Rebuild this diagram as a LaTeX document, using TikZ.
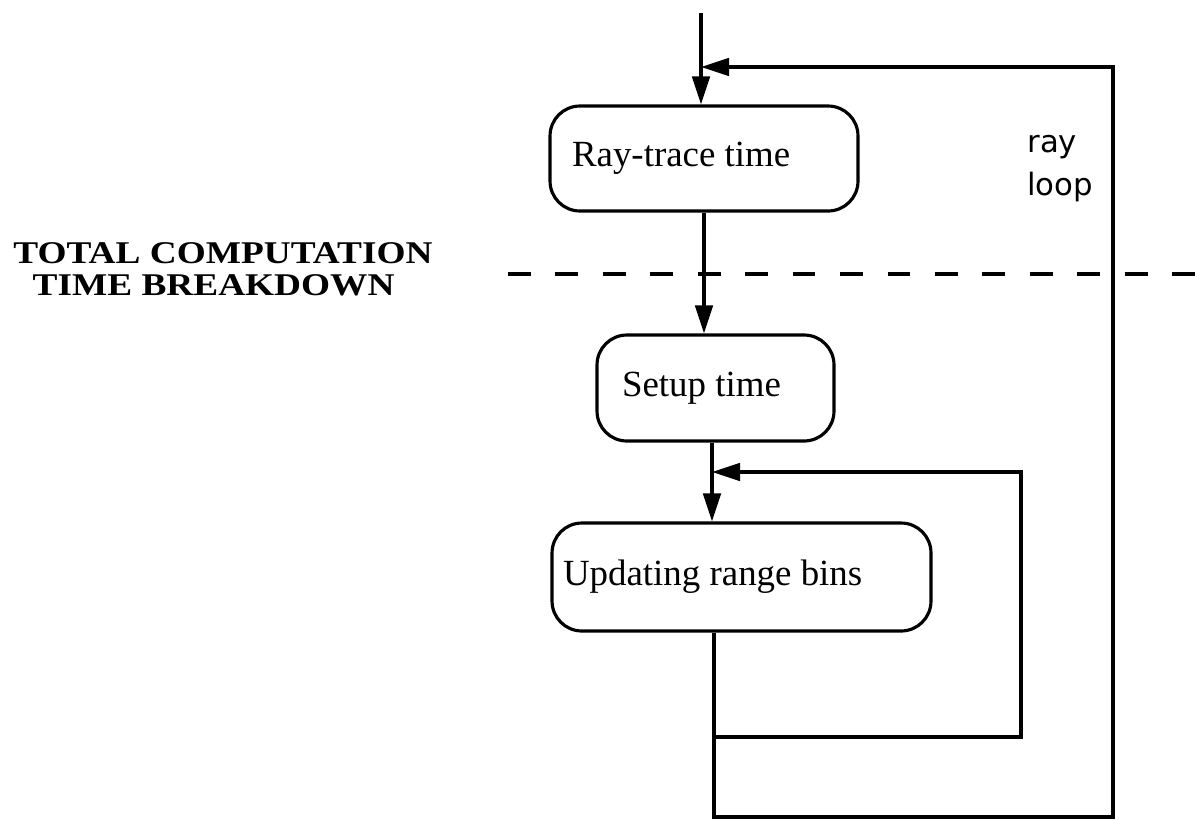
\documentclass[tikz,border=0pt]{standalone}
\usepackage{fontspec}
\setmainfont{Liberation Serif}
\newfontfamily\titlefont[FakeStretch=1.18]{Liberation Serif}
\newfontfamily\loopfont{DejaVu Sans}
\usetikzlibrary{arrows.meta}

\begin{document}
\begin{tikzpicture}[x=0.02cm,y=-0.02cm,
  stage/.style={draw,rounded corners=17pt,line width=1.8pt,align=flush left,inner ysep=0pt,font=\fontsize{21}{25}\selectfont},
  flow/.style={line width=1.8pt,-{Triangle[length=16pt,width=10pt]}}]
\useasboundingbox (0,0) rectangle (1195,819);

\node[stage,text width=5.28cm,inner xsep=0.44cm,minimum height=2.1cm](ray) at (704,158.5){Ray-trace time};
\node[stage,text width=3.74cm,inner xsep=0.5cm,minimum height=2.12cm](setup) at (715.5,388){Setup time};
\node[stage,text width=7.14cm,inner xsep=0.22cm,minimum height=2.16cm](bins) at (741.5,577){Updating range bins};

\coordinate(in) at (701,13);
\coordinate(j1) at (701,67);
\coordinate(j2) at (712,472);
\coordinate(c1) at (714,737);
\coordinate(c2) at (1021,737);
\coordinate(c3) at (714,817);
\coordinate(c4) at (1113,817);

\draw[flow](in)--(in|-ray.north);
\draw[flow](ray.south)--(ray.south|-setup.north);
\draw[flow](j2|-setup.south)--(j2|-bins.north);
\draw[flow](c1|-bins.south)--(c3)--(c4)--(c4|-j1)--(j1);
\draw[flow](c1)--(c2)--(c2|-j2)--(j2);

\draw[line width=1.9pt,dash pattern=on 13pt off 14pt](508,274)--(1195,274);

\node[anchor=base west,align=left,inner sep=0pt,font=\titlefont\bfseries\fontsize{18}{18.1}\selectfont](title) at (13,295){TOTAL COMPUTATION\\\hspace*{11pt}TIME BREAKDOWN};
\node[anchor=base west,align=left,inner sep=0pt,font=\loopfont\fontsize{17.5}{24.4}\selectfont](looplbl) at (1027,195){ray\\loop};
\end{tikzpicture}
\end{document}
